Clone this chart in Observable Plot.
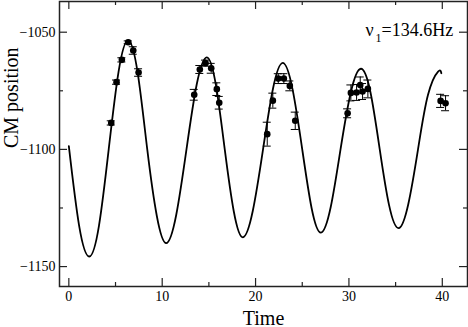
<!DOCTYPE html>
<html>
<head>
<meta charset="utf-8">
<script src="https://cdn.jsdelivr.net/npm/d3@7"></script>
<script src="https://cdn.jsdelivr.net/npm/@observablehq/plot@0.6"></script>
<style>
  html, body { margin: 0; padding: 0; background: #fff; }
</style>
</head>
<body>
<div id="chart"></div>
<script>
// Fitted curve
const curveT = [0, 1.1, 2.19, 3.23, 4.27, 5.32, 6.36, 7.38, 8.4, 9.42, 10.43, 11.5, 12.6, 13.7, 14.78, 15.75, 16.7, 17.67, 18.64, 19.7, 20.8, 21.87, 22.93, 23.97, 25.0, 26.0, 27.0, 28.05, 29.1, 30.2, 31.28, 32.3, 33.3, 34.3, 35.32, 36.35, 37.4, 38.47, 39.55, 39.9];
const curveV = [-1098.6, -1132.5, -1145.7, -1132.5, -1100, -1067, -1053.5, -1067.5, -1100, -1128.3, -1140, -1128, -1100, -1072.2, -1060.7, -1072.5, -1100, -1126.5, -1137.5, -1126.3, -1100, -1074, -1063.1, -1074.5, -1100, -1125, -1135.5, -1124.6, -1100, -1075.7, -1065.6, -1075.5, -1100, -1123.8, -1133.6, -1123.5, -1100, -1076.7, -1066.8, -1067.5];

// Measured points with error bars
const pointT = [4.54, 5.11, 5.68, 6.36, 6.9, 7.47,
                13.43, 14.03, 14.64, 15.25, 15.85, 16.11,
                21.25, 21.85, 22.43, 23.03, 23.67, 24.25,
                29.86, 30.21, 30.82, 31.21, 31.46, 32.03,
                39.82, 40.35];
const pointV = [-1088.7, -1071.3, -1061.8, -1054.3, -1057.8, -1067.2,
                -1076.7, -1065.9, -1063.2, -1065.4, -1074.3, -1080.1,
                -1093.5, -1079.2, -1069.8, -1069.8, -1072.9, -1087.8,
                -1084.6, -1075.9, -1075.7, -1072.5, -1075.3, -1074.2,
                -1079.3, -1080.3];
const pointErr = [0.9, 0.9, 0.9, 0.6, 1.6, 1.6,
                  2.3, 1.7, 1.3, 2.1, 2.7, 2.7,
                  5.1, 3.2, 2.1, 2.1, 2.1, 3.7,
                  1.9, 3.4, 3.4, 3.4, 3.4, 3.8,
                  2.8, 3.2];

const xMajor = [0, 10, 20, 30, 40];
const xMinor = [5, 15, 25, 35];
const yMajor = [-1150, -1100, -1050];
const yMinor = [-1125, -1075];

const xDomain = [-1, 42.7];
const yDomain = [-1158.5, -1036.9];

const curve = curveT.map((t, i) => ({t, v: curveV[i]}));
const points = pointT.map((t, i) => ({t, v: pointV[i], e: pointErr[i]}));

// tick lengths in data units (px / scale factor)
const kx = 9.335, ky = 2.343;
const majX = 8 / kx, minX = 4 / kx, majY = 8 / ky, minY = 4 / ky;
const capHalf = 4 / kx;

const [x0, x1] = xDomain, [y0, y1] = yDomain;
const tickRules = [
  Plot.ruleX(xMajor, {x: d => d, y1: y0, y2: y0 + majY, stroke: "#222", strokeWidth: 1.2}),
  Plot.ruleX(xMinor, {x: d => d, y1: y0, y2: y0 + minY, stroke: "#222", strokeWidth: 1.2}),
  Plot.ruleX(xMajor, {x: d => d, y1: y1, y2: y1 - majY, stroke: "#222", strokeWidth: 1.2}),
  Plot.ruleX(xMinor, {x: d => d, y1: y1, y2: y1 - minY, stroke: "#222", strokeWidth: 1.2}),
  Plot.ruleY(yMajor, {y: d => d, x1: x0, x2: x0 + majX, stroke: "#222", strokeWidth: 1.2}),
  Plot.ruleY(yMinor, {y: d => d, x1: x0, x2: x0 + minX, stroke: "#222", strokeWidth: 1.2}),
  Plot.ruleY(yMajor, {y: d => d, x1: x1, x2: x1 - majX, stroke: "#222", strokeWidth: 1.2}),
  Plot.ruleY(yMinor, {y: d => d, x1: x1, x2: x1 - minX, stroke: "#222", strokeWidth: 1.2})
];

const chart = Plot.plot({
  width: 468,
  height: 327,
  marginLeft: 59,
  marginRight: 1,
  marginTop: 1,
  marginBottom: 41,
  style: {fontFamily: "'Liberation Serif', serif", fontSize: "14px", background: "#fff", color: "#000"},
  x: {domain: xDomain},
  y: {domain: yDomain},
  marks: [
    Plot.axisX({ticks: xMajor, tickSize: 0, tickPadding: 5, tickFormat: d => String(d), fontSize: 14, label: null}),
    Plot.axisY({ticks: yMajor, tickSize: 0, tickPadding: 4, tickFormat: d => "\u2212" + Math.abs(d), fontSize: 14, label: null}),
    ...tickRules,
    Plot.line(curve, {x: "t", y: "v", curve: "natural", stroke: "#000", strokeWidth: 1.8}),
    Plot.ruleX(points, {x: "t", y1: d => d.v - d.e, y2: d => d.v + d.e, stroke: "#000", strokeWidth: 1}),
    Plot.ruleY(points, {y: d => d.v + d.e, x1: d => d.t - capHalf, x2: d => d.t + capHalf, stroke: "#000", strokeWidth: 1}),
    Plot.ruleY(points, {y: d => d.v - d.e, x1: d => d.t - capHalf, x2: d => d.t + capHalf, stroke: "#000", strokeWidth: 1}),
    Plot.dot(points, {x: "t", y: "v", r: 3.3, fill: "#000", stroke: null}),
    Plot.frame({stroke: "#222", strokeWidth: 1.5}),
    Plot.text(["Time"], {frameAnchor: "bottom", lineAnchor: "bottom", dy: 38, fontSize: 20, fill: "#000"}),
    Plot.text(["CM position"], {frameAnchor: "left", rotate: -90, dx: -48, dy: 4, fontSize: 20, fill: "#000"}),
    Plot.text(["\u03bd"], {frameAnchor: "top-right", textAnchor: "start", lineAnchor: "bottom", dx: -102, dy: 34, fontSize: 18, fill: "#000"}),
    Plot.text(["1"], {frameAnchor: "top-right", textAnchor: "start", lineAnchor: "bottom", dx: -92, dy: 40, fontSize: 12, fill: "#000"}),
    Plot.text(["=134.6Hz"], {frameAnchor: "top-right", textAnchor: "start", lineAnchor: "bottom", dx: -86, dy: 34, fontSize: 18, fill: "#000"})
  ]
});
document.getElementById("chart").appendChild(chart);
</script>
</body>
</html>
